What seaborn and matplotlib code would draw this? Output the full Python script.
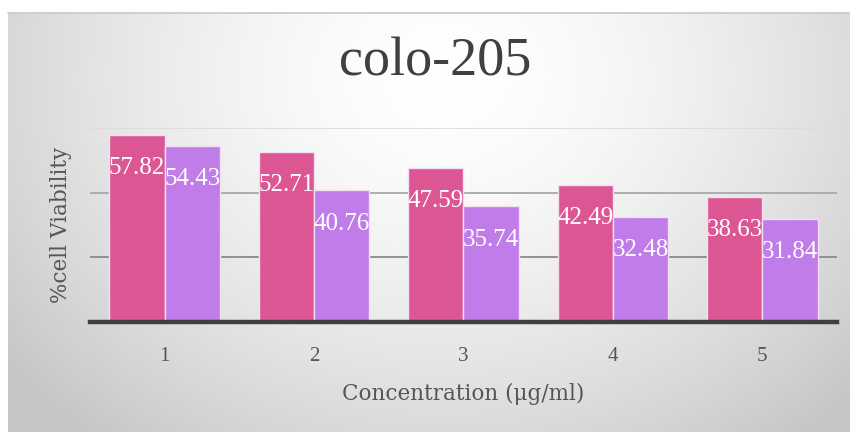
import numpy as np
import pandas as pd
import matplotlib
matplotlib.use("Agg")
import matplotlib.pyplot as plt
import seaborn as sns

categories = ["1", "2", "3", "4", "5"]
series_names = ["Series 1", "Series 2"]
series1 = [57.82, 52.71, 47.59, 42.49, 38.63]
series2 = [54.43, 40.76, 35.74, 32.48, 31.84]
title = "colo-205"
xlabel = "Concentration (\u03bcg/ml)"
ylabel = "%cell Viability"

df = pd.DataFrame({
    "cat": categories * 2,
    "series": [series_names[0]] * 5 + [series_names[1]] * 5,
    "value": series1 + series2,
})

sns.set_theme(style="white")
plt.rcParams["font.family"] = ["Liberation Serif", "DejaVu Serif"]

W, H = 850, 432
fig = plt.figure(figsize=(W / 100, H / 100), dpi=100)
fig.patch.set_facecolor("white")

# background gradient panel
bx0, by1 = 8 / W, 1 - 13 / H
bg = fig.add_axes([bx0, 0, 1 - bx0, by1], zorder=-5)
ny, nx = 200, 400
yy, xx = np.mgrid[0:ny, 0:nx]
u = xx / (nx - 1)
v = yy / (ny - 1)
r = np.sqrt(((u - 0.52) / 0.62) ** 2 + ((v - 0.15) / 1.05) ** 2)
val = 1.0 - 0.20 * np.clip(r, 0, 1.3) ** 1.6
val = np.clip(val, 0.78, 1.0)
img = np.dstack([val, val, val])
bg.imshow(img, aspect="auto", extent=[0, 1, 0, 1], origin="upper")
bg.set_axis_off()
fig.add_artist(plt.Line2D([bx0, 1], [by1, by1], color="#c8c8c8", lw=1.2,
                          transform=fig.transFigure))

ax = fig.add_axes([90 / W, 1 - 322 / H, (837 - 90) / W, (322 - 128) / H])
ax.patch.set_alpha(0)
colors = ["#DD5694", "#C07CE8"]
sns.barplot(data=df, x="cat", y="value", hue="series", palette=colors,
            width=0.74, ax=ax, edgecolor="#f3dff0", linewidth=1.0,
            saturation=1, legend=False, zorder=3)

ax.set_xlim(-0.5, 4.5)
ax.set_ylim(0, 60)
for yv, c in [(20, "#8a8a8a"), (40, "#a8a8a8"), (60, "#dcdcdc")]:
    ax.axhline(yv, color=c, lw=1.3, zorder=1)
for s in ["top", "right", "left"]:
    ax.spines[s].set_visible(False)
ax.spines["bottom"].set_color("#3f3f3f")
ax.spines["bottom"].set_linewidth(3.2)
ax.spines["bottom"].set_zorder(5)
ax.set_yticks([])
ax.tick_params(axis="x", length=0, pad=18, labelsize=15, labelcolor="#555555")

for cont in ax.containers:
    for p in cont.patches:
        h = p.get_height()
        ax.annotate(f"{h:.2f}", (p.get_x() + p.get_width() / 2, h),
                    xytext=(0, -24), textcoords="offset points",
                    ha="center", va="center", color="white", fontsize=18,
                    zorder=6)

lab_font = dict(fontsize=15.5, color="#555555", family=["DejaVu Serif"])
ax.set_xlabel(xlabel, labelpad=12, **lab_font)
ax.set_ylabel(ylabel, labelpad=13, **lab_font)
fig.text(0.512, 1 - 62 / H, title, ha="center", va="center",
         fontsize=39, color="#404040")

fig.savefig("out.png", dpi=100)
